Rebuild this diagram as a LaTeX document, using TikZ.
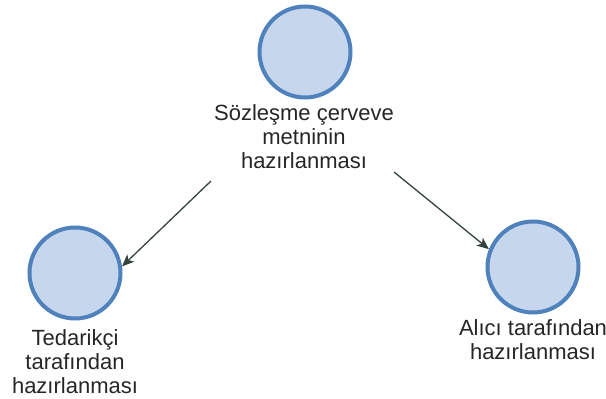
\documentclass[tikz,border=0pt]{standalone}
\usepackage{fontspec}
\setmainfont{Liberation Sans}
\usetikzlibrary{arrows.meta}
\definecolor{ringblue}{RGB}{79,129,189}
\definecolor{fillblue}{RGB}{198,214,236}
\definecolor{arrowgray}{RGB}{52,66,62}
\begin{document}
\begin{tikzpicture}[x=1pt,y=-1pt,
  event/.style={circle, draw=ringblue, fill=fillblue, line width=4pt,
    minimum size=91pt, inner sep=0pt},
  caption/.style={align=center, font=\fontsize{22}{24}\selectfont,
    text=black!85, inner sep=0pt},
  flow/.style={draw=arrowgray, line width=1.3pt,
    -{Stealth[length=12pt,width=10pt,inset=3pt]}}]
  \useasboundingbox (0,0) rectangle (606,399);
  % events
  \node[event] (top) at (305,52) {};
  \node[event] (sup) at (75,273) {};
  \node[event] (buy) at (533,267) {};
  % captions under the events
  \node[caption, anchor=north] (toptxt) at (304,104)
    {Sözleşme çerveve\\metninin\\hazırlanması};
  \node[caption, anchor=north] (suptxt) at (75,329)
    {Tedarikçi\\tarafından\\hazırlanması};
  \node[caption, anchor=north] (buytxt) at (533,319)
    {Alıcı tarafından\\hazırlanması};
  % flow from the common draft to both parties
  \coordinate (fromL) at (211,181);
  \coordinate (fromR) at (394,172);
  \draw[flow] (fromL) -- (sup.8);
  \draw[flow] (fromR) -- (buy.158);
\end{tikzpicture}
\end{document}
